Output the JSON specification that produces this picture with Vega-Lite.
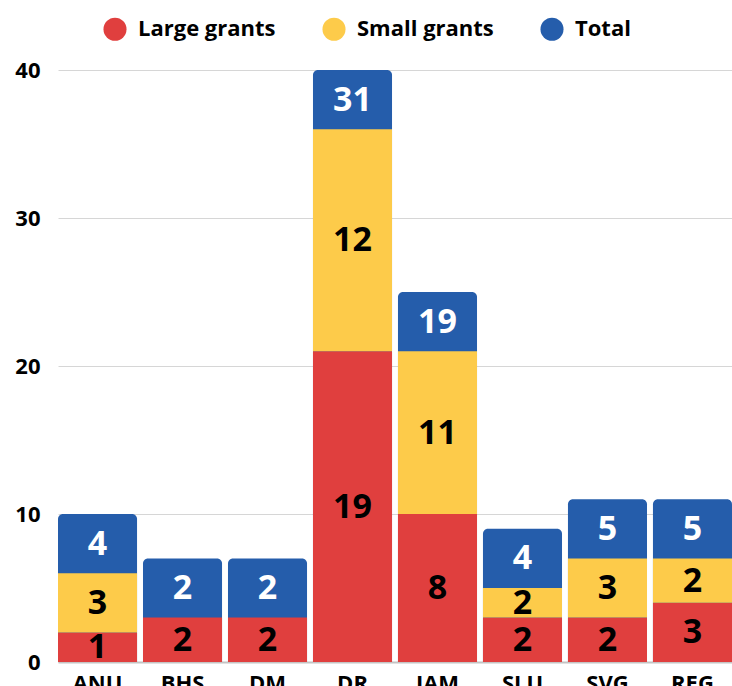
{
  "$schema": "https://vega.github.io/schema/vega-lite/v6.json",
  "width": 674,
  "height": 592,
  "autosize": {"type": "none"},
  "padding": {"left": 58, "top": 70, "right": 0, "bottom": 24},
  "background": "white",
  "config": {"view": {"stroke": null}},
  "data": {
    "values": [
      {"code": "ANU", "type": "Large grants", "value": 2, "label": "1"},
      {"code": "ANU", "type": "Small grants", "value": 4, "label": "3"},
      {"code": "ANU", "type": "Total", "value": 4, "label": "4"},
      {"code": "BHS", "type": "Large grants", "value": 3, "label": "2"},
      {"code": "BHS", "type": "Total", "value": 4, "label": "2"},
      {"code": "DM", "type": "Large grants", "value": 3, "label": "2"},
      {"code": "DM", "type": "Total", "value": 4, "label": "2"},
      {"code": "DR", "type": "Large grants", "value": 21, "label": "19"},
      {"code": "DR", "type": "Small grants", "value": 15, "label": "12"},
      {"code": "DR", "type": "Total", "value": 4, "label": "31"},
      {"code": "JAM", "type": "Large grants", "value": 10, "label": "8"},
      {"code": "JAM", "type": "Small grants", "value": 11, "label": "11"},
      {"code": "JAM", "type": "Total", "value": 4, "label": "19"},
      {"code": "SLU", "type": "Large grants", "value": 3, "label": "2"},
      {"code": "SLU", "type": "Small grants", "value": 2, "label": "2"},
      {"code": "SLU", "type": "Total", "value": 4, "label": "4"},
      {"code": "SVG", "type": "Large grants", "value": 3, "label": "2"},
      {"code": "SVG", "type": "Small grants", "value": 4, "label": "3"},
      {"code": "SVG", "type": "Total", "value": 4, "label": "5"},
      {"code": "REG", "type": "Large grants", "value": 4, "label": "3"},
      {"code": "REG", "type": "Small grants", "value": 3, "label": "2"},
      {"code": "REG", "type": "Total", "value": 4, "label": "5"}
    ]
  },
  "encoding": {
    "x": {
      "field": "code", "type": "nominal", "sort": null,
      "scale": {"paddingInner": 0.07, "paddingOuter": 0},
      "axis": {
        "title": null, "labelAngle": 0, "ticks": false,
        "domain": true, "domainColor": "#c4c4c4", "domainWidth": 2,
        "labelFont": "Open Sans", "labelFontSize": 22, "labelFontWeight": "bold",
        "labelColor": "black", "labelPadding": 11
      }
    }
  },
  "layer": [
    {
      "mark": {"type": "bar", "color": "#255DAB", "cornerRadiusTopLeft": 5, "cornerRadiusTopRight": 5},
      "encoding": {
        "y": {
          "aggregate": "sum", "field": "value", "type": "quantitative",
          "scale": {"domain": [0, 40], "nice": false},
          "axis": {
            "title": null, "values": [0, 10, 20, 30, 40], "grid": true, "gridColor": "#d6d6d6",
            "domain": false, "ticks": false, "labelFont": "Open Sans", "labelFontSize": 22,
            "labelFontWeight": "bold", "labelColor": "black", "labelPadding": 18
          }
        }
      }
    },
    {
      "transform": [{"filter": "datum.type !== 'Total'"}],
      "mark": {"type": "bar"},
      "encoding": {
        "y": {"field": "value", "type": "quantitative", "stack": "zero"},
        "color": {
          "field": "type", "type": "nominal",
          "scale": {"domain": ["Large grants", "Small grants", "Total"], "range": ["#E03F3E", "#FDCB4A", "#255DAB"]},
          "legend": {
            "title": null, "orient": "none", "direction": "horizontal",
            "legendX": 45, "legendY": -53,
            "symbolType": "circle", "symbolSize": 530, "symbolStrokeWidth": 0,
            "labelFont": "Open Sans", "labelFontSize": 22, "labelFontWeight": "bold",
            "labelColor": "black", "labelOffset": 11, "columnPadding": 46
          }
        },
        "order": {"field": "type"}
      }
    },
    {
      "transform": [
        {"stack": "value", "groupby": ["code"], "sort": [{"field": "type", "order": "ascending"}], "as": ["y0", "y1"]},
        {"fold": ["y0", "y1"], "as": ["edge", "pos"]}
      ],
      "mark": {"type": "text", "font": "Open Sans", "fontSize": 34, "fontWeight": "bold", "baseline": "middle", "dy": 1},
      "encoding": {
        "y": {"aggregate": "mean", "field": "pos", "type": "quantitative"},
        "detail": {"field": "type"},
        "text": {"field": "label"},
        "color": {"condition": {"test": "datum.type === 'Total'", "value": "white"}, "value": "black"}
      }
    }
  ]
}
